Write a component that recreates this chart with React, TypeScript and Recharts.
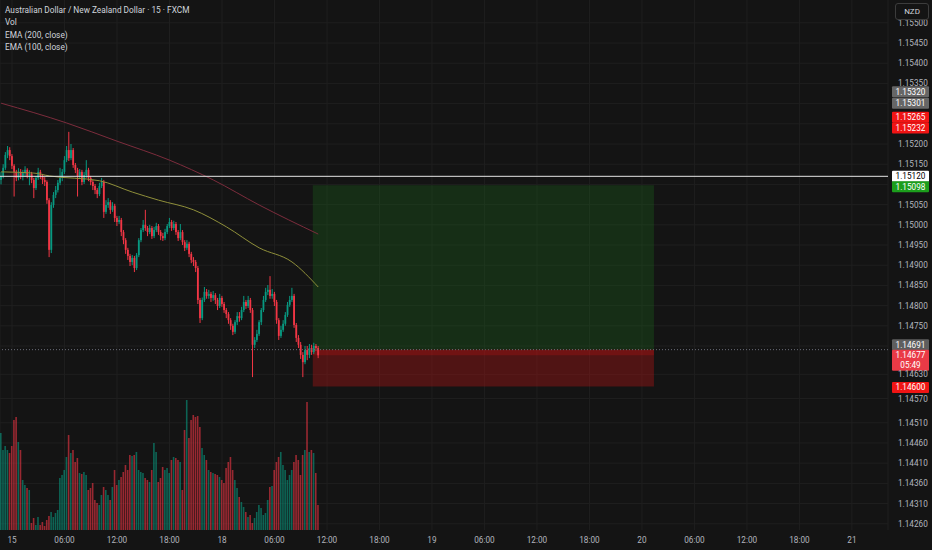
import React from 'react';
import {
  ComposedChart,
  Bar,
  Line,
  XAxis,
  YAxis,
  CartesianGrid,
  ReferenceLine,
  ReferenceArea,
} from 'recharts';

// 15-minute bars, bar index t: 0 = 15th 00:00, chart runs to t = 400
const firstBar = -5;
const lastSlot = 400;

const timeTicks = [0, 24, 48, 72, 96, 120, 144, 168, 192, 216, 240, 264, 288, 312, 336, 360, 384];
const timeLabels = ['15', '06:00', '12:00', '18:00', '18', '06:00', '12:00', '18:00', '19', '06:00', '12:00', '18:00', '20', '06:00', '12:00', '18:00', '21'];

const priceTicks = [
  1.155, 1.1545, 1.154, 1.1535, 1.152, 1.1515, 1.1505, 1.15, 1.1495, 1.149, 1.1485, 1.148, 1.1475,
  1.1463, 1.1457, 1.1451, 1.1446, 1.1441, 1.1436, 1.1431, 1.1426,
];
const gridPrices = [
  1.155, 1.1545, 1.154, 1.1535, 1.153, 1.1525, 1.152, 1.1515, 1.151, 1.1505, 1.15, 1.1495, 1.149, 1.1485,
  1.148, 1.1475, 1.147, 1.1463, 1.1457, 1.1451, 1.1446, 1.1441, 1.1436, 1.1431, 1.1426,
];
const priceDomain = [1.142446, 1.155564];

const opens = [
  1.15111, 1.15121, 1.15141, 1.15173, 1.15185, 1.1517, 1.15146, 1.15131, 1.15116, 1.15131,
  1.15121, 1.15128, 1.15136, 1.15121, 1.15126, 1.15111, 1.15091, 1.15116, 1.15131, 1.15121,
  1.15111, 1.15106, 1.15061, 1.14938, 1.15049, 1.15074, 1.15086, 1.15104, 1.15116, 1.15131,
  1.1516, 1.15185, 1.15165, 1.15185, 1.15148, 1.15136, 1.15121, 1.15131, 1.15106, 1.15123,
  1.15136, 1.15116, 1.15106, 1.15096, 1.15086, 1.15076, 1.15096, 1.15106, 1.15032, 1.15049,
  1.15056, 1.15037, 1.15047, 1.15017, 1.15007, 1.15012, 1.14982, 1.14962, 1.14938, 1.14923,
  1.14908, 1.14918, 1.14893, 1.14925, 1.14962, 1.14987, 1.15, 1.14992, 1.14982, 1.14992,
  1.14972, 1.14987, 1.14997, 1.14982, 1.14972, 1.14967, 1.14982, 1.14997, 1.15007, 1.14992,
  1.15002, 1.14982, 1.14967, 1.14982, 1.14957, 1.14943, 1.14953, 1.14928, 1.14913, 1.14908,
  1.14893, 1.14814, 1.14769, 1.14814, 1.14834, 1.14824, 1.14829, 1.14819, 1.14826, 1.14814,
  1.14799, 1.14819, 1.14804, 1.14789, 1.14779, 1.14764, 1.1475, 1.14735, 1.14759, 1.14774,
  1.14769, 1.14789, 1.14809, 1.14799, 1.14814, 1.14789, 1.14703, 1.14715, 1.1473, 1.14759,
  1.14789, 1.14814, 1.14834, 1.14839, 1.14824, 1.14829, 1.14809, 1.14764, 1.14725, 1.1474,
  1.14755, 1.14777, 1.14802, 1.14814, 1.14824, 1.14752, 1.1472, 1.14703, 1.14678, 1.1466,
  1.1469, 1.14678, 1.14695, 1.14685, 1.147, 1.14695,
];
const highs = [
  1.15131, 1.1515, 1.1518, 1.15195, 1.15192, 1.15175, 1.1515, 1.15136, 1.1514, 1.15138,
  1.15136, 1.15145, 1.1514, 1.15135, 1.15131, 1.15116, 1.15121, 1.15141, 1.15136, 1.15126,
  1.15118, 1.1511, 1.15066, 1.15056, 1.15081, 1.15096, 1.15111, 1.15141, 1.15138, 1.1517,
  1.15195, 1.1523, 1.152, 1.1519, 1.15153, 1.15141, 1.15138, 1.15136, 1.15131, 1.1516,
  1.15141, 1.15121, 1.15111, 1.15101, 1.15091, 1.15104, 1.15116, 1.15111, 1.15061, 1.15066,
  1.15061, 1.15056, 1.15052, 1.15022, 1.15022, 1.15017, 1.14987, 1.14967, 1.14943, 1.14928,
  1.14925, 1.14923, 1.1493, 1.14967, 1.14992, 1.15012, 1.15037, 1.14997, 1.15, 1.14997,
  1.14995, 1.15005, 1.15002, 1.14987, 1.1498, 1.1499, 1.15002, 1.15017, 1.15012, 1.1501,
  1.15007, 1.14987, 1.15002, 1.14987, 1.14962, 1.14962, 1.14958, 1.14933, 1.1492, 1.14913,
  1.14898, 1.14819, 1.1482, 1.14846, 1.14841, 1.14839, 1.14834, 1.14836, 1.14831, 1.14819,
  1.14829, 1.14824, 1.14809, 1.14794, 1.14784, 1.14769, 1.14755, 1.14764, 1.14784, 1.14784,
  1.14797, 1.14824, 1.14814, 1.14824, 1.14819, 1.14794, 1.14722, 1.1474, 1.14764, 1.14794,
  1.14824, 1.14844, 1.14851, 1.14873, 1.14841, 1.14834, 1.14814, 1.14769, 1.1475, 1.14764,
  1.14784, 1.14809, 1.14824, 1.14844, 1.14829, 1.14757, 1.14727, 1.1471, 1.14685, 1.147,
  1.147, 1.14705, 1.14703, 1.14708, 1.14705, 1.147,
];
const lows = [
  1.151, 1.15115, 1.15136, 1.15165, 1.1516, 1.15138, 1.1507, 1.15108, 1.1511, 1.15113,
  1.1511, 1.1512, 1.15115, 1.15098, 1.15103, 1.15066, 1.15086, 1.15111, 1.15113, 1.15101,
  1.15096, 1.15052, 1.1492, 1.1493, 1.15042, 1.15066, 1.1508, 1.15098, 1.15108, 1.15126,
  1.15155, 1.15158, 1.1516, 1.15141, 1.15128, 1.1507, 1.15116, 1.15098, 1.15101, 1.15116,
  1.15108, 1.15098, 1.15086, 1.15076, 1.15066, 1.15071, 1.15091, 1.15017, 1.15027, 1.15042,
  1.15027, 1.15032, 1.15007, 1.14997, 1.15002, 1.14972, 1.14952, 1.14928, 1.14913, 1.14898,
  1.149, 1.14883, 1.14888, 1.1492, 1.14957, 1.14982, 1.14985, 1.14972, 1.14977, 1.14965,
  1.14967, 1.14982, 1.14975, 1.14962, 1.1496, 1.14962, 1.14977, 1.14992, 1.14985, 1.14987,
  1.14975, 1.1496, 1.14962, 1.1495, 1.14935, 1.14938, 1.1492, 1.14905, 1.14898, 1.14883,
  1.14804, 1.14757, 1.14764, 1.14809, 1.14817, 1.14817, 1.14809, 1.14812, 1.14804, 1.14789,
  1.14794, 1.14797, 1.14782, 1.14769, 1.14755, 1.1474, 1.14727, 1.1473, 1.14752, 1.1476,
  1.14764, 1.14784, 1.14792, 1.14794, 1.14782, 1.14623, 1.14695, 1.1471, 1.14725, 1.14752,
  1.14784, 1.14809, 1.14826, 1.14817, 1.14817, 1.14799, 1.14755, 1.14715, 1.1472, 1.14735,
  1.1475, 1.14772, 1.14797, 1.14809, 1.14745, 1.1471, 1.14695, 1.14668, 1.14623, 1.14655,
  1.14665, 1.1467, 1.14678, 1.1468, 1.14688, 1.1467,
];
const closes = [
  1.15121, 1.15141, 1.15173, 1.15185, 1.1517, 1.15146, 1.15131, 1.15116, 1.15131, 1.15121,
  1.15128, 1.15136, 1.15121, 1.15126, 1.15111, 1.15091, 1.15116, 1.15131, 1.15121, 1.15111,
  1.15106, 1.15061, 1.14938, 1.15049, 1.15074, 1.15086, 1.15104, 1.15116, 1.15131, 1.1516,
  1.15185, 1.15165, 1.15185, 1.15148, 1.15136, 1.15121, 1.15131, 1.15106, 1.15123, 1.15136,
  1.15116, 1.15106, 1.15096, 1.15086, 1.15076, 1.15096, 1.15106, 1.15032, 1.15049, 1.15056,
  1.15037, 1.15047, 1.15017, 1.15007, 1.15012, 1.14982, 1.14962, 1.14938, 1.14923, 1.14908,
  1.14918, 1.14893, 1.14925, 1.14962, 1.14987, 1.15, 1.14992, 1.14982, 1.14992, 1.14972,
  1.14987, 1.14997, 1.14982, 1.14972, 1.14967, 1.14982, 1.14997, 1.15007, 1.14992, 1.15002,
  1.14982, 1.14967, 1.14982, 1.14957, 1.14943, 1.14953, 1.14928, 1.14913, 1.14908, 1.14893,
  1.14814, 1.14769, 1.14814, 1.14834, 1.14824, 1.14829, 1.14819, 1.14826, 1.14814, 1.14799,
  1.14819, 1.14804, 1.14789, 1.14779, 1.14764, 1.1475, 1.14735, 1.14759, 1.14774, 1.14769,
  1.14789, 1.14809, 1.14799, 1.14814, 1.14789, 1.14703, 1.14715, 1.1473, 1.14759, 1.14789,
  1.14814, 1.14834, 1.14839, 1.14824, 1.14829, 1.14809, 1.14764, 1.14725, 1.1474, 1.14755,
  1.14777, 1.14802, 1.14814, 1.14824, 1.14752, 1.1472, 1.14703, 1.14678, 1.1466, 1.1469,
  1.14678, 1.14695, 1.14685, 1.147, 1.14695, 1.14677,
];
const volumes = [
  97, 80, 84, 80, 77, 84, 110, 113, 88, 80,
  50, 45, 42, 40, 7, 12, 5, 13, 5, 8,
  4, 10, 14, 18, 13, 17, 20, 52, 55, 60,
  73, 95, 77, 80, 68, 72, 57, 56, 58, 55,
  40, 42, 47, 30, 27, 25, 35, 43, 40, 35,
  30, 43, 60, 45, 50, 53, 58, 65, 60, 75,
  74, 75, 78, 60, 58, 57, 52, 50, 48, 60,
  87, 78, 48, 52, 63, 60, 62, 57, 70, 73,
  72, 70, 68, 40, 100, 130, 92, 110, 115, 113,
  114, 103, 82, 75, 70, 60, 58, 57, 56, 55,
  53, 50, 47, 62, 68, 73, 60, 50, 42, 33,
  28, 23, 18, 13, 15, 7, 12, 18, 25, 22,
  15, 17, 30, 43, 44, 60, 68, 73, 78, 65,
  60, 50, 55, 60, 68, 75, 70, 55, 75, 80,
  128, 78, 80, 77, 57, 25,
];

const ema200Bars = [-5, 25, 48, 72, 92, 113, 140];
const ema200Values = [1.15301, 1.15252, 1.15207, 1.1516, 1.15111, 1.15049, 1.14977];
const ema100Bars = [-5, 10, 17, 40, 55, 67, 83, 98, 113, 128, 140];
const ema100Values = [1.15131, 1.15128, 1.15121, 1.15109, 1.15081, 1.15061, 1.15037, 1.14995, 1.14943, 1.14908, 1.14846];

const positionStart = 138;
const positionEnd = 293;
const entryPrice = 1.14691;
const targetPrice = 1.15098;
const stopPrice = 1.146;
const lastPrice = 1.14677;
const levelPrice = 1.1512;

const W = 932;
const H = 550;
const AXIS_W = 44;
const AXIS_H = 20;
const BG = '#141414';
const GRID = '#1f1f1f';
const UP = '#089981';
const DOWN = '#f23645';
const TEXT = '#b2b5be';
const FONT = 'Roboto, "Noto Sans", sans-serif';

const rows = Array.from({ length: lastSlot - firstBar + 1 }, (_, i) => {
  const t = firstBar + i;
  const row: any = { t };
  if (i < closes.length) {
    row.open = opens[i];
    row.high = highs[i];
    row.low = lows[i];
    row.close = closes[i];
    row.vol = volumes[i];
  }
  const a = ema200Bars.indexOf(t);
  if (a >= 0) row.ema200 = ema200Values[a];
  const b = ema100Bars.indexOf(t);
  if (b >= 0) row.ema100 = ema100Values[b];
  return row;
});

const Candle = (props: any) => {
  const { x, y, width, height, payload } = props;
  if (!payload || payload.high == null || !(height > 0)) return null;
  const { open, close, high, low } = payload;
  const k = height / (high - low);
  const cx = x + width / 2;
  const top = y + (high - Math.max(open, close)) * k;
  const bot = y + (high - Math.min(open, close)) * k;
  const color = close >= open ? UP : DOWN;
  return (
    <g>
      <line x1={cx} x2={cx} y1={y} y2={y + height} stroke={color} strokeWidth={1} />
      <rect x={cx - 0.9} y={top} width={1.8} height={Math.max(bot - top, 0.8)} fill={color} />
    </g>
  );
};

const VolumeBar = (props: any) => {
  const { x, y, width, height, payload } = props;
  if (!payload || payload.vol == null || !(height > 0)) return null;
  const color = payload.close >= payload.open ? 'rgba(8,153,129,0.6)' : 'rgba(242,54,69,0.6)';
  return <rect x={x} y={y} width={width} height={height} fill={color} />;
};

const NoDot = () => null;

const PriceTick = (props: any) => {
  const { x, y, payload } = props;
  return (
    <text x={x + 2} y={y + 3} fill={TEXT} fontSize={8.2} fontFamily={FONT} textAnchor="start">
      {Number(payload.value).toFixed(5)}
    </text>
  );
};

const TimeTick = (props: any) => {
  const { x, y, payload } = props;
  const idx = timeTicks.indexOf(payload.value);
  return (
    <text x={x} y={y + 5} fill={TEXT} fontSize={8.2} fontFamily={FONT} textAnchor="middle">
      {idx >= 0 ? timeLabels[idx] : ''}
    </text>
  );
};

// price tag drawn in the axis column at the level of a reference line
const tag = (text: string, bg: string, fg: string, dy = 0, second?: string) => (props: any) => {
  const vb = props.viewBox;
  if (!vb) return null;
  const x = vb.x + vb.width + 4;
  const cy = vb.y + dy;
  const h = second ? 21 : 11;
  return (
    <g>
      <rect x={x} y={cy - 5.5} width={37} height={h} fill={bg} rx={1} />
      <text x={x + 18.5} y={cy + 3} fill={fg} fontSize={8.2} fontFamily={FONT} textAnchor="middle">
        {text}
      </text>
      {second && (
        <text x={x + 18.5} y={cy + 13} fill={fg} fontSize={8.2} fontFamily={FONT} textAnchor="middle">
          {second}
        </text>
      )}
    </g>
  );
};

const legendLines = [
  'Australian Dollar / New Zealand Dollar · 15 · FXCM',
  'Vol',
  'EMA (200, close)',
  'EMA (100, close)',
];

const App: React.FC = () => {
  return (
    <div
      style={{
        position: 'fixed',
        left: 0,
        top: 0,
        width: W,
        height: H,
        background: BG,
        overflow: 'hidden',
        fontFamily: FONT,
      }}
    >
      <div style={{ position: 'absolute', left: 0, top: 0 }}>
        <ComposedChart width={W} height={H} data={rows} margin={{ top: 0, right: 0, bottom: 0, left: 0 }} barCategoryGap={0}>
          <CartesianGrid stroke={GRID} horizontalValues={gridPrices} />
          <XAxis
            dataKey="t"
            type="category"
            ticks={timeTicks}
            interval={0}
            height={AXIS_H}
            axisLine={false}
            tickLine={false}
            tick={<TimeTick />}
          />
          <YAxis
            orientation="right"
            width={AXIS_W}
            type="number"
            domain={priceDomain}
            allowDataOverflow
            ticks={priceTicks}
            interval={0}
            axisLine={false}
            tickLine={false}
            tick={<PriceTick />}
          />
          <ReferenceArea x1={positionStart} x2={positionEnd} y1={entryPrice} y2={targetPrice} fill="#1a7a1a" fillOpacity={0.25} stroke="none" />
          <ReferenceArea x1={positionStart} x2={positionEnd} y1={stopPrice} y2={entryPrice} fill="#c01515" fillOpacity={0.35} stroke="none" />
          <ReferenceArea x1={positionStart} x2={positionEnd} y1={lastPrice} y2={entryPrice} fill="#c01515" fillOpacity={0.3} stroke="none" />
          <Line
            dataKey="ema200"
            type="monotone"
            stroke="#7c2c3c"
            strokeWidth={1}
            dot={<NoDot />}
            activeDot={false}
            connectNulls
            isAnimationActive={false}
          />
          <Line
            dataKey="ema100"
            type="monotone"
            stroke="#8f8f3a"
            strokeWidth={1}
            dot={<NoDot />}
            activeDot={false}
            connectNulls
            isAnimationActive={false}
          />
          <Bar
            dataKey={(d: any) => (d.high == null ? null : [d.low, d.high])}
            shape={<Candle />}
            isAnimationActive={false}
          />
          <ReferenceLine y={levelPrice} stroke="#e6e6e6" strokeWidth={1} label={tag('1.15120', '#ffffff', '#000000')} />
          <ReferenceLine y={entryPrice} stroke="#6a6d78" strokeDasharray="1 2" label={tag('1.14691', '#5e5e5e', '#ffffff', -5)} />
          <ReferenceLine y={1.1532} stroke="none" label={tag('1.15320', '#666666', '#ffffff', -3.8)} />
          <ReferenceLine y={1.15301} stroke="none" label={tag('1.15301', '#666666', '#ffffff', 0)} />
          <ReferenceLine y={1.15265} stroke="none" label={tag('1.15265', '#f01414', '#ffffff', -0.5)} />
          <ReferenceLine y={1.15232} stroke="none" label={tag('1.15232', '#f01414', '#ffffff', -3)} />
          <ReferenceLine y={targetPrice} stroke="none" label={tag('1.15098', '#1c9e1c', '#ffffff', 1.5)} />
          <ReferenceLine y={lastPrice} stroke="none" label={tag('1.14677', '#ea3a46', '#ffffff', 0, '05:49')} />
          <ReferenceLine y={stopPrice} stroke="none" label={tag('1.14600', '#f01414', '#ffffff', 1)} />
        </ComposedChart>
      </div>
      <div style={{ position: 'absolute', left: 0, top: 0, pointerEvents: 'none' }}>
        <ComposedChart
          width={W}
          height={H}
          data={rows}
          margin={{ top: 0, right: AXIS_W, bottom: AXIS_H, left: 0 }}
          barCategoryGap={0}
        >
          <XAxis dataKey="t" type="category" hide />
          <YAxis type="number" domain={[0, 530]} hide />
          <Bar dataKey="vol" barSize={1.6} shape={<VolumeBar />} isAnimationActive={false} />
        </ComposedChart>
      </div>
      <div
        style={{
          position: 'absolute',
          left: 5,
          top: 4,
          color: '#d1d4dc',
          fontSize: 8.3,
          lineHeight: '12.3px',
          whiteSpace: 'nowrap',
        }}
      >
        {legendLines.map((s) => (
          <div key={s}>{s}</div>
        ))}
      </div>
      <div
        style={{
          position: 'absolute',
          left: 895,
          top: 3,
          width: 32,
          height: 15,
          border: '1px solid #3c3c3c',
          borderRadius: 3,
          background: BG,
          color: '#d1d4dc',
          fontSize: 8,
          lineHeight: '15px',
          textAlign: 'center',
        }}
      >
        NZD
      </div>
    </div>
  );
};

export default App;
